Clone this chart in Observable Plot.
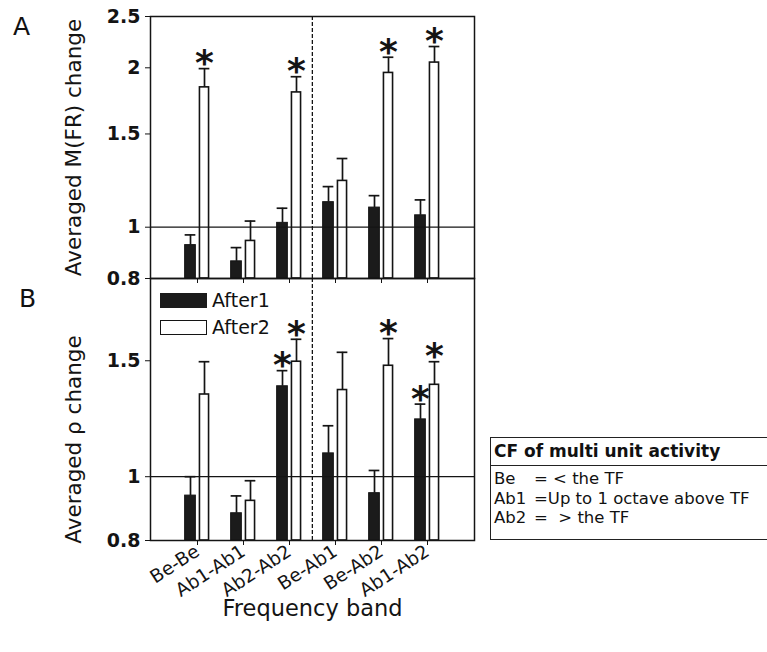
<!DOCTYPE html>
<html><head><meta charset="utf-8">
<script src="https://cdn.jsdelivr.net/npm/d3@7"></script>
<script src="https://cdn.jsdelivr.net/npm/@observablehq/plot@0.6"></script>
<style>
body{margin:0;background:#fff;}
#wrap{position:relative;width:767px;height:652px;overflow:hidden;background:#fff;font-family:"DejaVu Sans",sans-serif;color:#111;}
.panel{position:absolute;left:0;}
.letter{position:absolute;font-size:25px;line-height:25px;font-family:"DejaVu Sans";}
.lg{position:absolute;font-size:19px;line-height:20px;font-family:"DejaVu Sans";}
.sw{position:absolute;width:47px;height:15px;box-sizing:border-box;}
#cfbox{position:absolute;left:490px;top:437px;width:300px;height:103px;border:1.5px solid #222;box-sizing:border-box;}
#cfbox .hd{font-weight:bold;font-size:17px;line-height:26px;padding-left:3px;border-bottom:1.5px solid #222;height:28px;box-sizing:border-box;}
#cfbox table{border-collapse:collapse;font-size:16.5px;margin-left:3px;margin-top:3px;}
#cfbox td{padding:0;line-height:19.5px;white-space:pre;}
#cfbox td.nm{width:40px;}
</style></head><body><div id="wrap"></div>
<script>
const categories = ["Be-Be","Ab1-Ab1","Ab2-Ab2","Be-Ab1","Be-Ab2","Ab1-Ab2"];
const seriesNames = ["After1","After2"];
// Panel A: Averaged M(FR) change
const frAfter1 = [0.925, 0.862, 1.019, 1.115, 1.089, 1.053];
const frAfter1Err = [0.967, 0.915, 1.086, 1.193, 1.147, 1.126];
const frAfter2 = [1.837, 0.942, 1.797, 1.223, 1.956, 2.046];
const frAfter2Err = [1.993, 1.027, 1.924, 1.348, 2.094, 2.194];
const frAfter1Sig = [false, false, false, false, false, false];
const frAfter2Sig = [true, false, true, false, true, true];
const frDomain = [0.8, 2.5];
const frTicks = [0.8, 1, 1.5, 2, 2.5];
// Panel B: Averaged rho change
const rhoAfter1 = [0.936, 0.880, 1.372, 1.085, 0.944, 1.222];
const rhoAfter1Err = [1.000, 0.935, 1.449, 1.195, 1.022, 1.289];
const rhoAfter2 = [1.333, 0.919, 1.495, 1.354, 1.474, 1.379];
const rhoAfter2Err = [1.495, 0.986, 1.617, 1.545, 1.621, 1.495];
const rhoAfter1Sig = [false, false, true, false, false, true];
const rhoAfter2Sig = [false, false, true, false, true, true];
const rhoDomain = [0.8, 2];
const rhoTicks = [0.8, 1, 1.5];
const referenceLine = [1];
const dividerBefore = ["Be-Ab1"];
const tableTitle = "CF of multi unit activity";
const tableRows = [["Be", "=", " < the TF"], ["Ab1", "=", "Up to 1 octave above TF"], ["Ab2", "=", "  > the TF"]];

const W = 500, ML = 150, MR = 26, PH = 262;
const BAR_W = 11, GAP = 3;
const step = (W - ML - MR) / (categories.length + 1);
const inset = (step - BAR_W) / 2;
const off = (BAR_W + GAP) / 2;
const INK = "#141414";

function rowsOf(a1, e1, s1, a2, e2, s2) {
  const r = [];
  categories.forEach((c, i) => {
    r.push({cat: c, series: "After1", value: a1[i], err: e1[i], sig: s1[i]});
    r.push({cat: c, series: "After2", value: a2[i], err: e2[i], sig: s2[i]});
  });
  return r;
}

function panel({rows, domain, ticks, ylabel, labelDy, showX, marginTop, marginBottom}) {
  const r1 = rows.filter(d => d.series === "After1");
  const r2 = rows.filter(d => d.series === "After2");
  const marks = [
    Plot.barY(r1, {x: "cat", y1: domain[0], y2: "value", fill: "#1b1b1b", stroke: INK, strokeWidth: 1, insetLeft: inset, insetRight: inset, dx: -off}),
    Plot.barY(r2, {x: "cat", y1: domain[0], y2: "value", fill: "white", stroke: INK, strokeWidth: 1.6, insetLeft: inset + 0.8, insetRight: inset + 0.8, dx: off}),
    Plot.ruleX(r1, {x: "cat", y1: "value", y2: "err", dx: -off, stroke: INK, strokeWidth: 1.7}),
    Plot.ruleX(r2, {x: "cat", y1: "value", y2: "err", dx: off, stroke: INK, strokeWidth: 1.7}),
    Plot.tickY(r1, {x: "cat", y: "err", dx: -off, insetLeft: inset, insetRight: inset, stroke: INK, strokeWidth: 1.7}),
    Plot.tickY(r2, {x: "cat", y: "err", dx: off, insetLeft: inset, insetRight: inset, stroke: INK, strokeWidth: 1.7}),
    Plot.text(r1.filter(d => d.sig), {x: "cat", y: "err", dx: -off, dy: -5, text: () => "*", fontSize: 36, fontWeight: "bold", fontFamily: "DejaVu Sans", fill: INK}),
    Plot.text(r2.filter(d => d.sig), {x: "cat", y: "err", dx: off, dy: -5, text: () => "*", fontSize: 36, fontWeight: "bold", fontFamily: "DejaVu Sans", fill: INK}),
    Plot.ruleY(referenceLine, {stroke: INK, strokeWidth: 1.3}),
    Plot.ruleX(dividerBefore, {x: d => d, dx: -step / 2, stroke: INK, strokeWidth: 1.3, strokeDasharray: "4,2"}),
    Plot.frame({stroke: INK, strokeWidth: 1.5}),
    Plot.axisY(ticks, {tickFormat: () => "", tickSize: 5, stroke: INK, label: null}),
    Plot.text(ticks, {y: d => d, text: d => String(d), frameAnchor: "left", dx: -10, textAnchor: "end", fontSize: 19, fontWeight: "bold", fontFamily: "DejaVu Sans", fill: INK}),
    Plot.axisX({tickSize: 5, tickPadding: 4, tickFormat: showX ? (d => d) : (() => ""), tickRotate: showX ? -33 : 0, fontSize: 18.5, fontFamily: "DejaVu Sans", stroke: INK, fill: INK, label: null}),
    Plot.text([ylabel], {frameAnchor: "left", textAnchor: "middle", dx: -76, dy: labelDy, rotate: -90, fontSize: 21.5, fontFamily: "DejaVu Sans", fill: INK})
  ];
  if (showX) marks.push(Plot.text(["Frequency band"], {frameAnchor: "bottom", dx: 0, dy: 75, fontSize: 22.5, fontFamily: "DejaVu Sans", fill: INK}));
  return Plot.plot({
    width: W, height: marginTop + PH + marginBottom,
    marginLeft: ML, marginRight: MR, marginTop, marginBottom,
    x: {type: "band", domain: categories, paddingInner: 0, paddingOuter: 0.5},
    y: {type: "log", domain},
    style: {background: "transparent", overflow: "visible"},
    marks
  });
}

const wrap = document.getElementById("wrap");
const pA = panel({rows: rowsOf(frAfter1, frAfter1Err, frAfter1Sig, frAfter2, frAfter2Err, frAfter2Sig), domain: frDomain, ticks: frTicks, ylabel: "Averaged M(FR) change", labelDy: 0, showX: false, marginTop: 16, marginBottom: 12});
pA.classList.add("panel"); pA.style.top = "0px";
const pB = panel({rows: rowsOf(rhoAfter1, rhoAfter1Err, rhoAfter1Sig, rhoAfter2, rhoAfter2Err, rhoAfter2Sig), domain: rhoDomain, ticks: rhoTicks, ylabel: "Averaged ρ change", labelDy: 30, showX: true, marginTop: 4, marginBottom: 112});
pB.classList.add("panel"); pB.style.top = "274px";
wrap.appendChild(pA); wrap.appendChild(pB);

function el(tag, cls, css, text) {
  const e = document.createElement(tag);
  if (cls) e.className = cls;
  Object.assign(e.style, css || {});
  if (text != null) e.textContent = text;
  wrap.appendChild(e);
  return e;
}
el("div", "letter", {left: "13px", top: "14px"}, "A");
el("div", "letter", {left: "19px", top: "286px"}, "B");
el("div", "sw", {left: "160px", top: "293px", background: "#1b1b1b"});
el("div", "lg", {left: "212px", top: "290px"}, seriesNames[0]);
el("div", "sw", {left: "160px", top: "320px", background: "#fff", border: "1.5px solid #141414"});
el("div", "lg", {left: "212px", top: "317px"}, seriesNames[1]);
const box = el("div", null, {}, null); box.id = "cfbox";
const hd = document.createElement("div"); hd.className = "hd"; hd.textContent = tableTitle; box.appendChild(hd);
const tb = document.createElement("table");
tableRows.forEach(r => { const tr = document.createElement("tr"); r.forEach((c, j) => { const td = document.createElement("td"); if (j === 0) td.className = "nm"; td.textContent = c; tr.appendChild(td); }); tb.appendChild(tr); });
box.appendChild(tb);
</script></body></html>
